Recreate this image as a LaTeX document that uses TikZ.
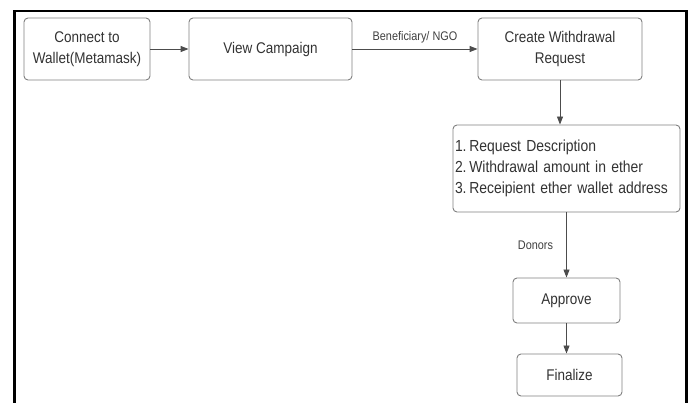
\documentclass[tikz,border=0pt]{standalone}
\usepackage{fontspec}
\setmainfont{Liberation Sans}[FakeStretch=0.87]
\usetikzlibrary{arrows.meta}
\begin{document}
\begin{tikzpicture}[x=1pt,y=-1pt,
  box/.style={draw=black!50, line width=0.9pt, rounded corners=4pt, text=black!80, font=\fontsize{15.5}{21}\selectfont, align=center, inner sep=0pt},
  conn/.style={draw=black!70, line width=0.9pt, -{Triangle[length=8pt,width=6pt]}},
  lbl/.style={text=black!75, font=\fontsize{12.5}{14}\selectfont, inner sep=0pt}]
\useasboundingbox (0,0) rectangle (691,403);
\fill[white] (0,0) rectangle (691,403);
% frame
\draw[black, line width=1.5pt] (13,11) -- (687,11);
\draw[black, line width=3pt] (14.5,10.5) -- (14.5,403);
\draw[black, line width=3pt] (686,10.5) -- (686,403);
% boxes
\node[box, minimum width=126pt, minimum height=62pt] (wallet) at (87,49) {Connect to\\Wallet(Metamask)};
\node[box, minimum width=163pt, minimum height=62pt] (view) at (270.5,49) {View Campaign};
\node[box, minimum width=164pt, minimum height=62pt] (create) at (560,49) {Create Withdrawal\\Request};
\node[box, text width=223pt, inner xsep=2pt, minimum height=87pt, align=left, font=\fontsize{16}{21}\selectfont] (req) at (566.5,168.5) {1.\,Request Description\\2.\,Withdrawal amount in ether\\3.\,Receipient ether wallet address};
\node[box, minimum width=107pt, minimum height=45pt] (approve) at (566.5,300.5) {Approve};
\node[box, minimum width=105pt, minimum height=42pt] (final) at (569.5,375) {Finalize};
% connectors
\draw[conn] (wallet.east) -- (view.west);
\draw[conn] (view.east) -- node[lbl, above=5pt] {Beneficiary/ NGO} (create.west);
\draw[conn] (create.south) -- (create.south |- req.north);
\draw[conn] (req.south -| approve.north) -- node[lbl, left=13pt, pos=0.5] {Donors} (approve.north);
\draw[conn] (approve.south) -- (approve.south |- final.north);
\end{tikzpicture}
\end{document}
